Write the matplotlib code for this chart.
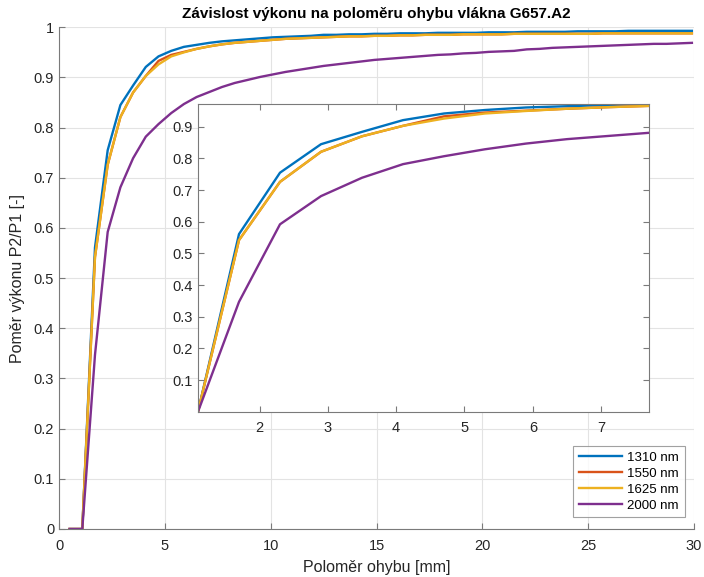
import numpy as np
import matplotlib
matplotlib.use('Agg')
import matplotlib.pyplot as plt
from matplotlib.ticker import FormatStrFormatter

plt.rcParams['font.family'] = ['Liberation Sans', 'DejaVu Sans']

radius = [0.5, 1.1, 1.7, 2.3, 2.9, 3.5, 4.1, 4.7, 5.3, 5.9, 6.5, 7.1, 7.7, 8.3, 8.9, 9.5,
          10.1, 10.7, 11.3, 11.9, 12.5, 13.1, 13.7, 14.3, 14.9, 15.5, 16.1, 16.7, 17.3,
          17.9, 18.5, 19.1, 19.7, 20.3, 20.9, 21.5, 22.1, 22.7, 23.3, 23.9, 24.5, 25.1,
          25.7, 26.3, 26.9, 27.5, 28.1, 28.7, 29.3, 29.9]

p_1310 = [0, 0, 0.561, 0.755, 0.845, 0.884, 0.921, 0.942, 0.953, 0.961, 0.965, 0.969, 0.972,
          0.974, 0.976, 0.978, 0.980, 0.981, 0.982, 0.983, 0.985, 0.985, 0.986, 0.986, 0.987,
          0.987, 0.988, 0.988, 0.988, 0.989, 0.989, 0.989, 0.989, 0.990, 0.990, 0.990, 0.991,
          0.991, 0.991, 0.991, 0.992, 0.992, 0.992, 0.992, 0.993, 0.993, 0.993, 0.993, 0.993, 0.993]

p_1550 = [0, 0, 0.542, 0.726, 0.821, 0.870, 0.903, 0.933, 0.945, 0.951, 0.957, 0.962, 0.966,
          0.969, 0.971, 0.973, 0.975, 0.977, 0.978, 0.979, 0.980, 0.981, 0.982, 0.982, 0.983,
          0.983, 0.984, 0.984, 0.985, 0.985, 0.985, 0.986, 0.986, 0.986, 0.986, 0.987, 0.987,
          0.987, 0.987, 0.987, 0.987, 0.987, 0.988, 0.988, 0.988, 0.988, 0.988, 0.988, 0.988, 0.988]

p_1625 = [0, 0, 0.542, 0.726, 0.821, 0.870, 0.903, 0.926, 0.942, 0.950, 0.957, 0.962, 0.966,
          0.969, 0.971, 0.973, 0.975, 0.977, 0.978, 0.979, 0.980, 0.981, 0.982, 0.982, 0.983,
          0.983, 0.984, 0.984, 0.985, 0.985, 0.985, 0.986, 0.986, 0.986, 0.986, 0.987, 0.987,
          0.987, 0.987, 0.987, 0.987, 0.987, 0.988, 0.988, 0.988, 0.988, 0.988, 0.988, 0.988, 0.988]

p_2000 = [0, 0, 0.347, 0.592, 0.681, 0.739, 0.782, 0.807, 0.829, 0.847, 0.861, 0.871, 0.881,
          0.889, 0.895, 0.901, 0.906, 0.911, 0.915, 0.919, 0.923, 0.926, 0.929, 0.932, 0.935,
          0.937, 0.939, 0.941, 0.943, 0.945, 0.946, 0.948, 0.949, 0.951, 0.952, 0.953, 0.956,
          0.957, 0.959, 0.960, 0.961, 0.962, 0.963, 0.964, 0.965, 0.966, 0.967, 0.967, 0.968, 0.969]

labels = ['1310 nm', '1550 nm', '1625 nm', '2000 nm']
colors = ['#0072BD', '#D95319', '#EDB120', '#7E2F8E']
series = [p_1310, p_1550, p_1625, p_2000]

x = np.array(radius)
text_col = '#262626'
axis_col = '#7a7a7a'

fig = plt.figure(figsize=(7.04, 5.77), dpi=100)
ax = fig.add_axes([59 / 704, 48 / 577, 635 / 704, 501.7 / 577])

for s, c, l in zip(series, colors, labels):
    ax.plot(x, s, color=c, lw=1.7, label=l)

ax.set_xlim(0, 30)
ax.set_ylim(0, 1)
ax.set_xticks([0, 5, 10, 15, 20, 25, 30])
ax.set_yticks(np.arange(0, 1.01, 0.1))
ax.yaxis.set_major_formatter(FormatStrFormatter('%g'))
ax.grid(True, color='#e3e3e3', lw=0.8)
ax.set_axisbelow(True)
for side in ['top', 'right']:
    ax.spines[side].set_visible(False)
for side in ['left', 'bottom']:
    ax.spines[side].set_color(axis_col)
ax.tick_params(direction='in', length=4, color=axis_col, labelcolor=text_col, labelsize=10.5)
ax.tick_params(axis='x', pad=7)

ax.set_title('Závislost výkonu na poloměru ohybu vlákna G657.A2', fontsize=11,
             fontweight='bold', color='black', pad=7)
ax.set_xlabel('Poloměr ohybu [mm]', fontsize=11.5, color=text_col, labelpad=5)
ax.set_ylabel('Poměr výkonu P2/P1 [-]', fontsize=11.5, color=text_col, labelpad=6)

leg = ax.legend(loc='lower right', fontsize=9.5, frameon=True, fancybox=False,
                handlelength=3.3, handletextpad=0.4, borderpad=0.45, labelspacing=0.28,
                borderaxespad=0, bbox_to_anchor=(0.986, 0.023))
leg.get_frame().set_edgecolor('#8a8a8a')
leg.get_frame().set_linewidth(0.8)

# zoomed view of the steep part
ins = fig.add_axes([198 / 704, (577 - 411.7) / 577, 451 / 704, 307.7 / 577])
for s, c in zip(series, colors):
    ins.plot(x[1:13], s[1:13], color=c, lw=1.7)
ins.set_xlim(1.1, 7.7)
ins.set_ylim(0, 0.972)
ins.set_xticks([2, 3, 4, 5, 6, 7])
ins.set_yticks(np.arange(0.1, 0.95, 0.1))
ins.yaxis.set_major_formatter(FormatStrFormatter('%g'))
for side in ins.spines:
    ins.spines[side].set_color(axis_col)
ins.tick_params(direction='in', length=4, color=axis_col, labelcolor=text_col, labelsize=10.5,
                top=True, right=True)
ins.tick_params(axis='x', pad=7)

fig.savefig('out.png', dpi=100)
